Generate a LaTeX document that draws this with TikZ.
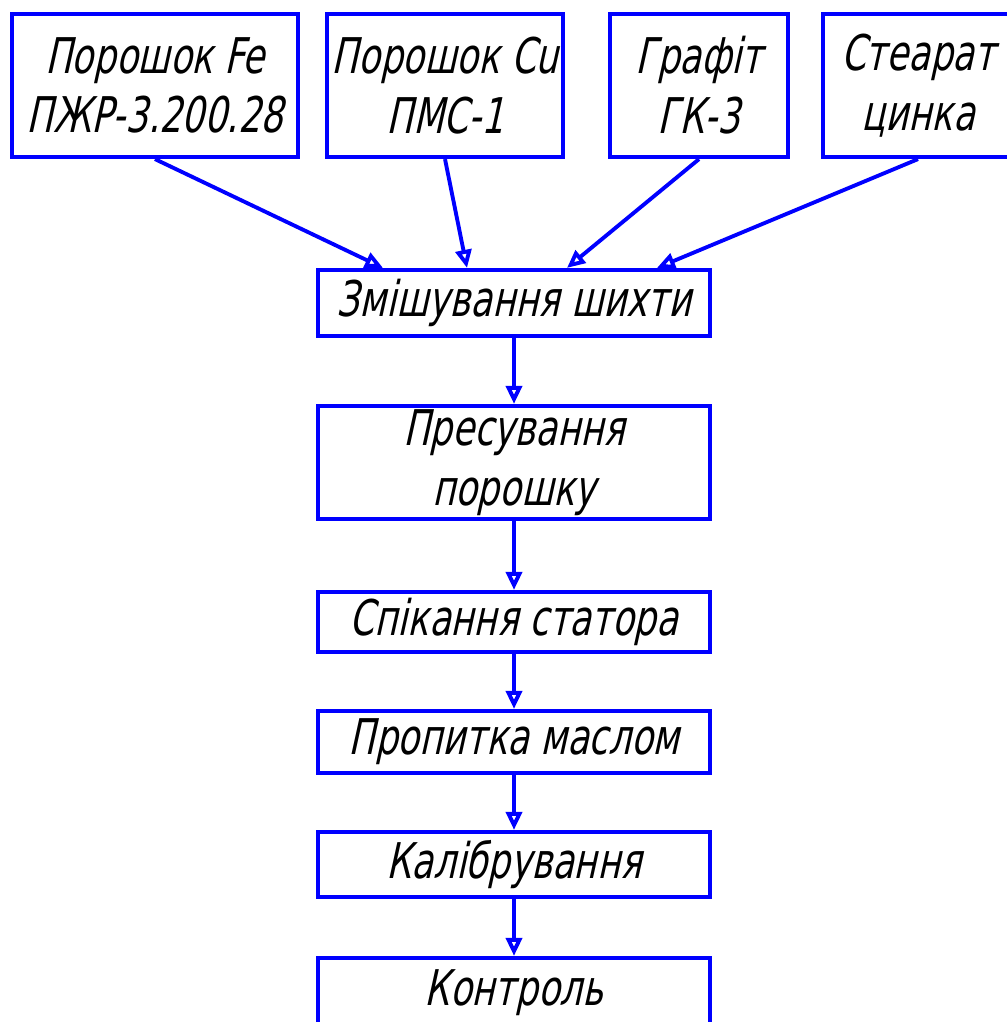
\documentclass[tikz,border=0pt]{standalone}
\usepackage{fontspec}
\setmainfont{DejaVu Sans}[FakeSlant=0.22,FakeStretch=0.72]
\usetikzlibrary{arrows.meta}

\begin{document}
\begin{tikzpicture}[box/.style={draw=blue, line width=1.2pt, minimum height=0.62cm, inner sep=0pt, align=center, font=\fontsize{14}{17}\selectfont},
  flow/.style={draw=blue, line width=1.1pt, -{Triangle[open, length=0.18cm, width=0.16cm]}}]
\useasboundingbox (0,0) rectangle (10.06,-10.22);
  % input materials
  \node[box, minimum width=2.86cm, minimum height=1.43cm] (fe) at (1.55,-0.855) {Порошок Fe\\ПЖР-3.200.28};
  \node[box, minimum width=2.36cm, minimum height=1.43cm] (cu) at (4.45,-0.855) {Порошок Cu\\ПМС-1};
  \node[box, minimum width=1.78cm, minimum height=1.43cm] (gr) at (6.99,-0.855) {Графіт\\ГК-3};
  \node[box, minimum width=1.90cm, minimum height=1.43cm] (st) at (9.18,-0.855) {Стеарат\\цинка};

  % process steps
  \node[box, minimum width=3.92cm, minimum height=0.66cm] (mix) at (5.14,-3.03) {Змішування шихти};
  \node[box, minimum width=3.92cm, minimum height=1.13cm] (press) at (5.14,-4.625) {Пресування\\порошку};
  \node[box, minimum width=3.92cm, minimum height=0.60cm] (sint) at (5.14,-6.22) {Спікання статора};
  \node[box, minimum width=3.92cm, minimum height=0.62cm] (oil) at (5.14,-7.42) {Пропитка маслом};
  \node[box, minimum width=3.92cm, minimum height=0.65cm] (cal) at (5.14,-8.645) {Калібрування};
  \node[box, minimum width=3.92cm, minimum height=0.70cm] (ctrl) at (5.14,-9.93) {Контроль};

\path (fe.south) edge[flow] ([xshift=-1.31cm]mix.north)
(cu.south) edge[flow] ([xshift=-0.47cm]mix.north)
(gr.south) edge[flow] ([xshift=0.53cm]mix.north)
(st.south) edge[flow] ([xshift=1.43cm]mix.north)
(mix) edge[flow] (press)
(press) edge[flow] (sint)
(sint) edge[flow] (oil)
(oil) edge[flow] (cal)
(cal) edge[flow] (ctrl);
\end{tikzpicture}
\end{document}
